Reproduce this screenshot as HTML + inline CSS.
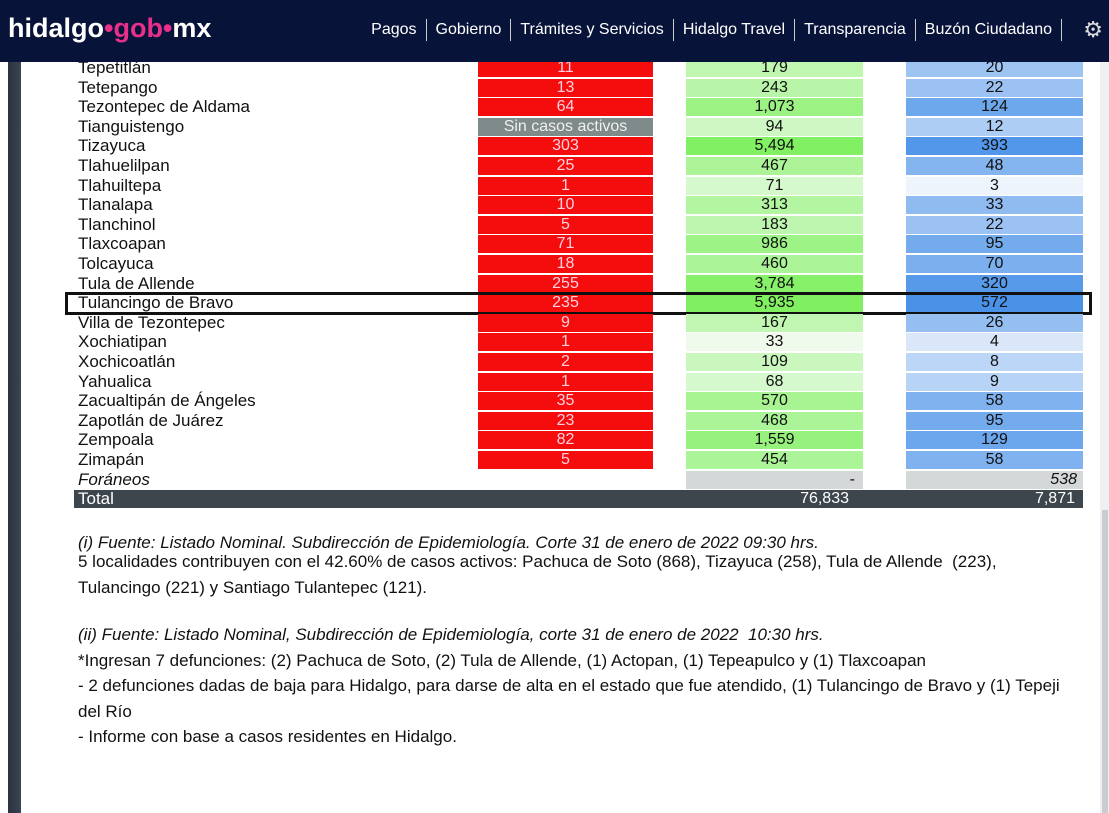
<!DOCTYPE html>
<html><head><meta charset="utf-8">
<style>
body{margin:0;width:1109px;height:813px;overflow:hidden;background:#fff;font-family:"Liberation Sans",sans-serif;position:relative}
#hdr{position:absolute;left:0;top:0;width:1109px;height:62px;background:#08133a;z-index:5}
.logo{position:absolute;left:8px;top:13px;font-size:27px;font-weight:bold;color:#fff;letter-spacing:0}
.logo .p{color:#e8308a}
.nav{position:absolute;right:38px;top:19px;color:#fff;font-size:16px;white-space:nowrap}
.nav span.sep{display:inline-block;width:1px;height:22px;background:#ccc;vertical-align:middle;margin:0 9px}
.gear{position:absolute;right:6px;top:17px;font-size:22px;color:#ddd}
#lbar{position:absolute;left:8px;top:62px;width:13px;height:751px;background:linear-gradient(90deg,#2a3340,#3a4452)}
#rbar{position:absolute;left:1100px;top:62px;width:9px;height:751px;background:#eef0f2}
#rthumb{position:absolute;left:1102px;top:510px;width:6px;height:303px;background:#c9ccd0}
.cell{position:absolute;height:18px;line-height:18px;font-size:16px;text-align:center}
.name{position:absolute;left:78px;height:18px;line-height:18px;font-size:17px;color:#111}
.notes{position:absolute;left:78px;font-size:17px;color:#111;line-height:25.5px;white-space:nowrap}
</style></head><body>
<div id="hdr">
<div class="logo">hidalgo<span class="p">•gob•</span>mx</div>
<div class="nav"><span>Pagos</span><span class="sep"></span><span>Gobierno</span><span class="sep"></span><span>Trámites y Servicios</span><span class="sep"></span><span>Hidalgo Travel</span><span class="sep"></span><span>Transparencia</span><span class="sep"></span><span>Buzón Ciudadano</span><span class="sep"></span></div>
<div class="gear">⚙</div>
</div>
<div id="lbar"></div>
<div id="rbar"></div>
<div id="rthumb"></div>
<div id="table"></div>
<div class="notes" style="top:530px"><i>(i) Fuente: Listado Nominal. Subdirección de Epidemiología. Corte 31 de enero de 2022 09:30 hrs.</i></div>
<div class="notes" style="top:549px">5 localidades contribuyen con el 42.60% de casos activos: Pachuca de Soto (868), Tizayuca (258), Tula de Allende&nbsp; (223),<br>Tulancingo (221) y Santiago Tulantepec (121).</div>
<div class="notes" style="top:622px"><i>(ii) Fuente: Listado Nominal, Subdirección de Epidemiología, corte 31 de enero de 2022&nbsp; 10:30 hrs.</i><br>*Ingresan 7 defunciones: (2) Pachuca de Soto, (2) Tula de Allende, (1) Actopan, (1) Tepeapulco y (1) Tlaxcoapan<br>- 2 defunciones dadas de baja para Hidalgo, para darse de alta en el estado que fue atendido, (1) Tulancingo de Bravo y (1) Tepeji<br>del Río<br>- Informe con base a casos residentes en Hidalgo.</div>
<script>
const municipios=["Tepetitlán","Tetepango","Tezontepec de Aldama","Tianguistengo","Tizayuca","Tlahuelilpan","Tlahuiltepa","Tlanalapa","Tlanchinol","Tlaxcoapan","Tolcayuca","Tula de Allende","Tulancingo de Bravo","Villa de Tezontepec","Xochiatipan","Xochicoatlán","Yahualica","Zacualtipán de Ángeles","Zapotlán de Juárez","Zempoala","Zimapán"];
const activos=[11,13,64,null,303,25,1,10,5,71,18,255,235,9,1,2,1,35,23,82,5];
const acumulados=[179,243,1073,94,5494,467,71,313,183,986,460,3784,5935,167,33,109,68,570,468,1559,454];
const defunciones=[20,22,124,12,393,48,3,33,22,95,70,320,572,26,4,8,9,58,95,129,58];
const foraneos=["-","538"];
const totales=["76,833","7,871"];
const highlightRow="Tulancingo de Bravo";
const T=document.getElementById('table');
const top0=59,rh=19.6;
function fmt(v){return v.toLocaleString('en-US');}
function mix(a,b,t){return 'rgb('+a.map((x,i)=>Math.round(x+(b[i]-x)*t)).join(',')+')';}
function gcol(v){const t=Math.max(0,Math.min(1,Math.log(v/30)/Math.log(6000/30)));return mix([246,251,246],[128,240,96],Math.pow(t,0.7));}
function bcol(v){const t=Math.max(0,Math.min(1,Math.log(v/3)/Math.log(572/3)));return mix([238,244,252],[74,146,232],Math.pow(t,0.7));}
function add(cls,left,top,w,txt,bg,color,name,extra){
const d=document.createElement('div');
d.className=cls;d.style.left=left+'px';d.style.top=top+'px';if(w)d.style.width=w+'px';
if(bg)d.style.background=bg;if(color)d.style.color=color;if(extra)d.style.cssText+=extra;
d.textContent=txt;


T.appendChild(d);return d;}
municipios.forEach((m,i)=>{
const y=top0+i*rh;
add('name',78,y,0,m,null,null,'municipality-name');
if(activos[i]===null)add('cell',478,y,175,'Sin casos activos','#7f8a8a','#f0f0f0','active-cases-cell');
else add('cell',478,y,175,activos[i],'#f50d0d','#ffd0e0','active-cases-cell');
add('cell',686,y,177,fmt(acumulados[i]),gcol(acumulados[i]),'#111','accumulated-cases-cell');
add('cell',906,y,177,fmt(defunciones[i]),bcol(defunciones[i]),'#111','deaths-cell');
if(m===highlightRow){
add('cell',65,y-2,1021,'',null,null,'highlight-box','height:17px;border:3px solid #111;background:transparent');
}});
const yf=top0+municipios.length*rh;
add('name',78,yf,0,'Foráneos',null,null,'foraneos-label','font-style:italic');
add('cell',686,yf,177,foraneos[0],'#d4d8d8','#111','foraneos-accumulated','text-align:right;padding-right:8px;box-sizing:border-box');
add('cell',906,yf,177,foraneos[1],'#d4d8d8','#111','foraneos-deaths','text-align:right;padding-right:6px;box-sizing:border-box;font-style:italic');
const yt=yf+rh;
add('cell',74,yt,1009,'','#3d454d',null,'total-row');
add('name',78,yt,0,'Total',null,'#fff','total-label');
add('cell',686,yt,177,totales[0],null,'#fff','total-accumulated','text-align:right;padding-right:14px;box-sizing:border-box');
add('cell',906,yt,177,totales[1],null,'#fff','total-deaths','text-align:right;padding-right:8px;box-sizing:border-box');
</script>
</body></html>
